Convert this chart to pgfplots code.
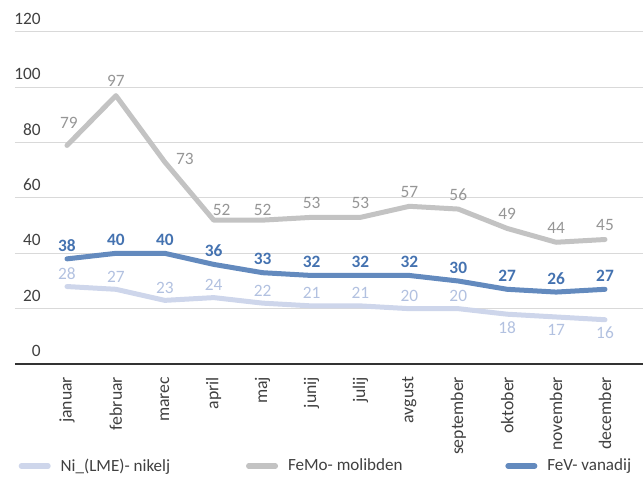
\documentclass[border=0pt]{standalone}
\usepackage{fontspec}
\setmainfont{Carlito}
\usepackage{pgfplots}
\pgfplotsset{compat=1.18}

\definecolor{nicol}{RGB}{206,214,235}
\definecolor{nilbl}{RGB}{178,193,224}
\definecolor{mocol}{RGB}{195,195,195}
\definecolor{molbl}{RGB}{150,150,150}
\definecolor{vcol}{RGB}{99,138,190}
\definecolor{vlbl}{RGB}{68,114,176}
\definecolor{txt}{RGB}{64,64,64}

% data labels: colour, xshift, yshift (1px = 0.75pt)
\pgfplotsset{
    lab/.style n args={3}{draw=none, forget plot, nodes near coords,
        every node near coord/.append style={anchor=center, inner sep=0pt,
            xshift=#2, yshift=#3, text=#1, font=\fontsize{13}{15}\selectfont}},
}

\begin{document}
\begin{tikzpicture}
\useasboundingbox (0,0) rectangle (482.25pt,359.25pt);
\begin{axis}[
    at={(11.25pt,86.25pt)}, anchor=south west,
    scale only axis,
    width=471pt, height=249pt,
    xmin=-1.063, xmax=11.777,
    ymin=0, ymax=120,
    clip=false,
    axis lines*=left,
    x axis line style={draw=black!80, line width=1.4pt},
    y axis line style={draw=none},
    major tick length=0pt,
    ymajorgrids,
    grid style={draw=black!15, line width=0.75pt},
    ytick={0,20,...,120},
    xtick={0,...,11},
    xticklabels={januar,februar,marec,april,maj,junij,julij,avgust,september,oktober,november,december},
    /pgf/number format/assume math mode=true,
    yticklabel style={anchor=south east, inner sep=0pt, xshift=19.5pt, yshift=5.25pt,
        font=\fontsize{13}{15}\selectfont, text=txt},
    xticklabel style={yshift=-9.5pt, rotate=90, anchor=east, inner sep=0pt,
        font=\fontsize{13.3}{15}\selectfont, text=txt},
    every axis plot/.append style={line width=3.75pt, line cap=round, line join=round},
    legend columns=3,
    legend style={at={(0.0059,-0.3072)}, anchor=west, draw=none, fill=none,
        inner sep=0pt, outer sep=0pt, column sep=0pt,
        nodes={inner sep=0pt, text=txt, font=\fontsize{12.8}{15}\selectfont},
        /tikz/every odd column/.append style={column sep=7.5pt}},
    legend image code/.code={\draw[#1, line width=4pt, line cap=round] (0pt,0pt) -- (20pt,0pt);},
]
% Ni_(LME)
\addplot[color=nicol] coordinates {
    (0,28) (1,27) (2,23) (3,24) (4,22) (5,21) (6,21) (7,20) (8,20) (9,18) (10,17) (11,16)};
\addlegendentry{\makebox[139pt][l]{Ni\_(LME)- nikelj}}
% FeMo
\addplot[color=mocol] coordinates {
    (0,79) (1,97) (2,73) (3,52) (4,52) (5,53) (6,53) (7,57) (8,56) (9,49) (10,44) (11,45)};
\addlegendentry{\makebox[163pt][l]{FeMo- molibden}}
% FeV
\addplot[color=vcol] coordinates {
    (0,38) (1,40) (2,40) (3,36) (4,33) (5,32) (6,32) (7,32) (8,30) (9,27) (10,26) (11,27)};
\addlegendentry{FeV- vanadij}

% labels
\addplot[lab={nilbl}{0pt}{9.5pt}] coordinates {
    (0,28) (1,27) (2,23) (3,24) (4,22) (5,21) (6,21) (7,20) (8,20)};
\addplot[lab={nilbl}{0pt}{-10pt}] coordinates {(9,18) (10,17) (11,16)};
\addplot[lab={molbl}{0pt}{10.8pt}] coordinates {
    (1,97) (5,53) (6,53) (7,57) (8,56) (9,49) (10,44) (11,45)};
\addplot[lab={molbl}{1.5pt}{17pt}] coordinates {(0,79)};
\addplot[lab={molbl}{15pt}{2.5pt}] coordinates {(2,73)};
\addplot[lab={molbl}{6pt}{7.5pt}] coordinates {(3,52)};
\addplot[lab={molbl}{0pt}{7.5pt}] coordinates {(4,52)};
\addplot[lab={vlbl}{0pt}{10.2pt}, every node near coord/.append style={font=\fontsize{13}{15}\selectfont\bfseries}] coordinates {
    (0,38) (1,40) (2,40) (3,36) (4,33) (5,32) (6,32) (7,32) (8,30) (9,27) (10,26) (11,27)};
\end{axis}
\end{tikzpicture}
\end{document}
